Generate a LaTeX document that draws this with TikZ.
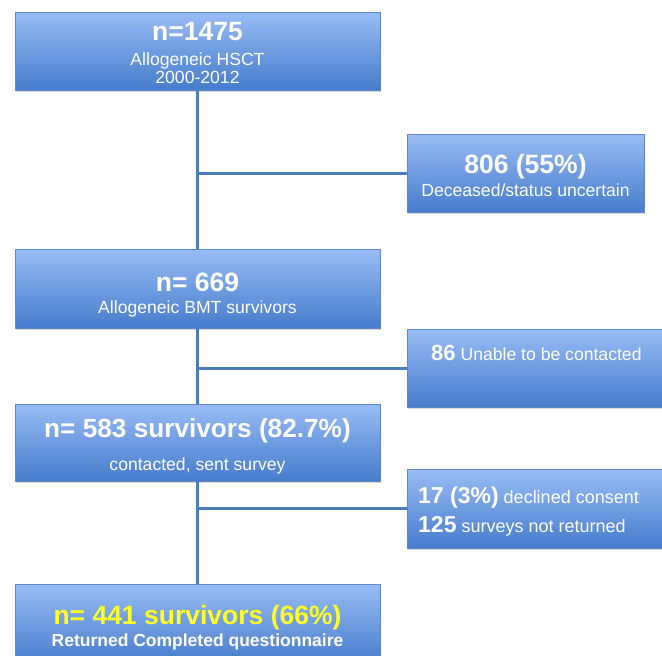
\documentclass[tikz,border=0pt]{standalone}
\usepackage{fontspec}
\setmainfont{Liberation Sans}
\usetikzlibrary{shadows}
\definecolor{boxtop}{RGB}{152,188,245}
\definecolor{boxbot}{RGB}{70,124,204}
\definecolor{boxline}{RGB}{96,136,196}
\definecolor{connc}{RGB}{74,126,187}
\definecolor{ytext}{RGB}{255,255,40}
\begin{document}
\begin{tikzpicture}[x=1pt,y=-1pt,
 box/.style={rectangle, draw=boxline, line width=0.8pt, top color=boxtop, bottom color=boxbot,
   drop shadow={opacity=0.3, shadow xshift=1pt, shadow yshift=-2pt}, inner sep=0pt},
 connline/.style={draw=connc, line width=3pt},
 bigtxt/.style={font=\fontsize{26.5}{30}\selectfont\bfseries, text=white, anchor=base, inner sep=0pt},
 smalltxt/.style={font=\fontsize{17.6}{21}\selectfont, text=white, anchor=base, inner sep=0pt},
 lefttxt/.style={text=white, anchor=base west, inner sep=0pt}]
\useasboundingbox (0,0) rectangle (662,656);
\fill[white] (0,0) rectangle (662,656);

% boxes
\node[box, minimum width=365pt, minimum height=78pt] (b1) at (197.5,51) {};
\node[box, minimum width=237pt, minimum height=78pt] (r1) at (525.5,173) {};
\node[box, minimum width=365pt, minimum height=79pt] (b2) at (197.5,288.5) {};
\node[box, minimum width=265pt, minimum height=78pt] (r2) at (539.5,368) {};
\node[box, minimum width=365pt, minimum height=77pt] (b3) at (197.5,442.5) {};
\node[box, minimum width=265pt, minimum height=79pt] (r3) at (539.5,508.5) {};
\node[box, minimum width=365pt, minimum height=80pt] (b4) at (197.5,624) {};

% connectors
\draw[connline] (b1.south) -- (b2.north);
\draw[connline] (b2.south) -- (b3.north);
\draw[connline] (b3.south) -- (b4.north);
\draw[connline] (b1.south |- r1.west) -- (r1.west);
\draw[connline] (b2.south |- r2.west) -- (r2.west);
\draw[connline] (b3.south |- r3.west) -- (r3.west);

% texts
\node[bigtxt] (t1a) at (197.5,40) {n=1475};
\node[smalltxt] (t1b) at (197.5,65) {Allogeneic HSCT};
\node[smalltxt] (t1c) at (197.5,83) {2000-2012};

\node[bigtxt] (t2a) at (525.5,173) {806 (55\%)};
\node[smalltxt] (t2b) at (525.5,196) {Deceased/status uncertain};

\node[bigtxt] (t3a) at (197.5,291) {n= 669};
\node[smalltxt] (t3b) at (197.5,313) {Allogeneic BMT survivors};

\node[lefttxt] (t4a) at (431,360) {{\fontsize{22}{26}\selectfont\bfseries 86}{\fontsize{17.6}{21}\selectfont\ Unable to be contacted}};

\node[lefttxt] (t5a) at (418,503) {{\fontsize{23}{27}\selectfont\bfseries 17 (3\%)}{\fontsize{18}{21}\selectfont\ declined consent}};
\node[lefttxt] (t5b) at (418,532) {{\fontsize{23}{27}\selectfont\bfseries 125}{\fontsize{18}{21}\selectfont\ surveys not returned}};

\node[bigtxt, font=\fontsize{26.2}{30}\selectfont\bfseries] (t6a) at (197.5,437) {n= 583 survivors (82.7\%)};
\node[smalltxt] (t6b) at (197.5,470) {contacted, sent survey};

\node[bigtxt, text=ytext] (t7a) at (197.5,624) {n= 441 survivors (66\%)};
\node[smalltxt, font=\fontsize{17.5}{21}\selectfont\bfseries] (t7b) at (197.5,646) {Returned Completed questionnaire};
\end{tikzpicture}
\end{document}
